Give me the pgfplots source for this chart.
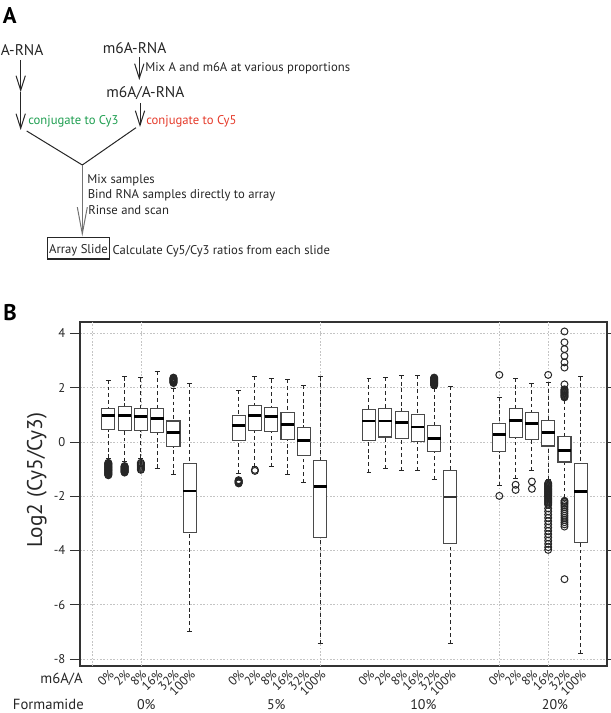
\documentclass[border=0pt]{standalone}
\usepackage{pgfplots}
\pgfplotsset{compat=1.18}
\usepgfplotslibrary{statistics}
\usetikzlibrary{arrows.meta}
\usepackage{fontspec}
\setmainfont{PT Sans}
\definecolor{cygreen}{HTML}{1E9E50}
\definecolor{cyred}{HTML}{E53A2A}
\definecolor{boxgray}{HTML}{4A4A4A}
\definecolor{gridgray}{HTML}{C4C4C4}

\pgfplotsset{
  /pgfplots/boxplot/draw/lower whisker/.code={%
    \draw[/pgfplots/boxplot/every whisker/.try, dash pattern=on 2.8pt off 2.2pt]
      (boxplot box cs:\pgfplotsboxplotvalue{lower whisker},0.5) --
      (boxplot box cs:\pgfplotsboxplotvalue{lower quartile},0.5);
    \draw[/pgfplots/boxplot/every whisker/.try, solid]
      (boxplot whisker cs:\pgfplotsboxplotvalue{lower whisker},0) --
      (boxplot whisker cs:\pgfplotsboxplotvalue{lower whisker},1);
  },
  /pgfplots/boxplot/draw/upper whisker/.code={%
    \draw[/pgfplots/boxplot/every whisker/.try, dash pattern=on 2.8pt off 2.2pt]
      (boxplot box cs:\pgfplotsboxplotvalue{upper whisker},0.5) --
      (boxplot box cs:\pgfplotsboxplotvalue{upper quartile},0.5);
    \draw[/pgfplots/boxplot/every whisker/.try, solid]
      (boxplot whisker cs:\pgfplotsboxplotvalue{upper whisker},0) --
      (boxplot whisker cs:\pgfplotsboxplotvalue{upper whisker},1);
  },
  boxplot/draw direction=y,
  boxplot/box extend=0.8,
  boxplot/whisker extend=0.3,
  boxplot/every box/.style={draw=boxgray, line width=0.8pt, fill=white},
  boxplot/every median/.style={draw=black, line width=2.2pt},
  boxplot/every whisker/.style={draw=black!85, line width=0.75pt},
  bp/.style={boxplot prepared={#1}, draw=boxgray, mark=o, mark size=2.6pt,
    mark options={draw=black!85, line width=0.75pt, solid, fill=none}},
}

\begin{document}
\begin{tikzpicture}[x=0.75pt, y=0.75pt,
  arr/.style={-{Straight Barb[length=11pt,width=7pt]}, line width=0.75pt, black!85},
  lab/.style={anchor=base west, inner sep=0pt, font=\fontsize{11.6}{13}\selectfont, text=black!85},
  desc/.style={anchor=base west, inner sep=0pt, font=\fontsize{9.5}{11}\selectfont, text=black!85}]
\useasboundingbox (0,0) rectangle (610,713);

% ---------- Panel A ----------
\node[anchor=base west, inner sep=0pt, font=\fontsize{17}{20}\selectfont\bfseries] at (2.5,689.7) {A};
\node[lab] at (0.5,657) {A-RNA};
\node[lab] at (102.5,659) {m6A-RNA};
\node[desc] at (145,641.3) {Mix A and m6A at various proportions};
\node[lab] at (106,615.7) {m6A/A-RNA};
\node[desc, text=cygreen] at (28,588.7) {conjugate to Cy3};
\node[desc, text=cyred] at (146,588.7) {conjugate to Cy5};
\draw[arr] (20.7,653) -- (20.7,621);
\draw[arr] (20.7,621) -- (20.7,583);
\draw[arr] (139.3,656) -- (139.3,633);
\draw[arr] (140,610) -- (140,586);
\draw[line width=0.75pt, black!85] (26.7,582) -- (82.3,548) -- (136,585.3);
\draw[-{Straight Barb[length=20pt,width=7.5pt]}, line width=0.75pt, black!55] (82.3,548) -- (82.3,476.5);
\node[desc] at (87,529.7) {Mix samples};
\node[desc] at (87.5,514.7) {Bind RNA samples directly to array};
\node[desc] at (88,498) {Rinse and scan};
\draw[line width=0.9pt, black!85] (47.7,475.7) rectangle (109.3,454);
\node[anchor=base, inner sep=0pt, font=\fontsize{9.5}{11}\selectfont, text=black!85] at (78.5,459) {Array Slide};
\node[desc] at (112.3,458) {Calculate Cy5/Cy3 ratios from each slide};

% ---------- Panel B ----------
\node[anchor=base west, inner sep=0pt, font=\fontsize{17}{20}\selectfont\bfseries] at (3,392.5) {B};
\coordinate (axSW) at (80,47);
\begin{axis}[
  at={(axSW)}, anchor=south west,
  width=395.25pt, height=258pt, scale only axis,
  xmin=-0.737, xmax=31.61, ymin=-8.26, ymax=4.42,
  axis line style={draw=black!80, line width=0.8pt},
  tick align=outside, major tick length=7.5pt,
  ytick={-8,-6,-4,-2,0,2,4},
  yticklabels={-8,-6,-4,-2,0,2,4},
  ytick style={draw=black!80, line width=0.6pt},
  yticklabel style={font=\fontsize{9.5}{11}\selectfont, text=black!85},
  ymajorgrids,
  major grid style={gridgray, dash pattern=on 1.2pt off 1.3pt, line width=0.55pt},
  xtick={1,2,3,4,5,6,9,10,11,12,13,14,17,18,19,20,21,22,25,26,27,28,29,30},
  xticklabels={0\%,2\%,8\%,16\%,32\%,100\%,0\%,2\%,8\%,16\%,32\%,100\%,0\%,2\%,8\%,16\%,32\%,100\%,0\%,2\%,8\%,16\%,32\%,100\%},
  xtick style={draw=none},
  xticklabel shift=-7pt,
  xticklabel style={rotate=45, anchor=north east, font=\fontsize{9.4}{10}\selectfont, text=black!85, inner sep=1pt},
  extra x ticks={0,3,14,25,28},
  extra x tick labels={},
  extra x tick style={grid=major},
  ylabel={Log2 (Cy5/Cy3)},
  ylabel style={at={(axis description cs:-0.0816,0.54)}, anchor=center, font=\fontsize{16}{19}\selectfont, text=black!85},
]
% formamide 0%
\addplot[bp={draw position=1, lower whisker=-0.6, lower quartile=0.455, median=0.96, upper quartile=1.23, upper whisker=2.28}]
  coordinates {(1,-0.77) (1,-0.79) (1,-0.81) (1,-0.83) (1,-0.85) (1,-0.87) (1,-0.89) (1,-0.91) (1,-0.93) (1,-0.95) (1,-0.97) (1,-0.99) (1,-1.01) (1,-1.03) (1,-1.05) (1,-1.07) (1,-1.09) (1,-1.11) (1,-1.13) (1,-1.15) (1,-1.17) (1,-1.19) (1,-1.21) (1,-1.23)};
\addplot[bp={draw position=2, lower whisker=-0.72, lower quartile=0.43, median=0.98, upper quartile=1.32, upper whisker=2.40}]
  coordinates {(2,-0.89) (2,-0.91) (2,-0.93) (2,-0.95) (2,-0.97) (2,-0.99) (2,-1.01) (2,-1.03) (2,-1.05) (2,-1.07) (2,-1.09) (2,-1.11) (2,-1.13)};
\addplot[bp={draw position=3, lower whisker=-0.6, lower quartile=0.43, median=0.95, upper quartile=1.23, upper whisker=2.36}]
  coordinates {(3,-0.77) (3,-0.80) (3,-0.84) (3,-0.88) (3,-0.92) (3,-0.96) (3,-1.00) (3,-1.03)};
\addplot[bp={draw position=4, lower whisker=-0.97, lower quartile=0.33, median=0.87, upper quartile=1.23, upper whisker=2.60}]
  coordinates {};
\addplot[bp={draw position=5, lower whisker=-1.19, lower quartile=-0.18, median=0.33, upper quartile=0.77, upper whisker=1.98}]
  coordinates {(5,2.17) (5,2.19) (5,2.21) (5,2.23) (5,2.25) (5,2.27) (5,2.29) (5,2.31) (5,2.33) (5,2.35) (5,2.37)};
\addplot[bp={draw position=6, lower whisker=-6.99, lower quartile=-3.35, median=-1.81, upper quartile=-0.80, upper whisker=2.15}]
  coordinates {};
% formamide 5%
\addplot[bp={draw position=9, lower whisker=-1.17, lower quartile=0.04, median=0.62, upper quartile=0.98, upper whisker=1.90}]
  coordinates {(9,-1.41) (9,-1.43) (9,-1.45) (9,-1.47) (9,-1.49) (9,-1.51) (9,-1.53)};
\addplot[bp={draw position=10, lower whisker=-0.90, lower quartile=0.41, median=0.98, upper quartile=1.35, upper whisker=2.42}]
  coordinates {(10,-1.03) (10,-1.07)};
\addplot[bp={draw position=11, lower whisker=-0.90, lower quartile=0.37, median=0.92, upper quartile=1.27, upper whisker=2.32}]
  coordinates {};
\addplot[bp={draw position=12, lower whisker=-1.19, lower quartile=0.09, median=0.65, upper quartile=1.07, upper whisker=2.31}]
  coordinates {};
\addplot[bp={draw position=13, lower whisker=-1.49, lower quartile=-0.50, median=0.06, upper quartile=0.53, upper whisker=2.08}]
  coordinates {};
\addplot[bp={draw position=14, lower whisker=-7.44, lower quartile=-3.53, median=-1.66, upper quartile=-0.68, upper whisker=2.40}]
  coordinates {};
% formamide 10%
\addplot[bp={draw position=17, lower whisker=-1.13, lower quartile=0.06, median=0.77, upper quartile=1.19, upper whisker=2.34}]
  coordinates {};
\addplot[bp={draw position=18, lower whisker=-0.98, lower quartile=0.18, median=0.77, upper quartile=1.22, upper whisker=2.37}]
  coordinates {};
\addplot[bp={draw position=19, lower whisker=-1.05, lower quartile=0.12, median=0.70, upper quartile=1.13, upper whisker=2.46}]
  coordinates {};
\addplot[bp={draw position=20, lower whisker=-1.07, lower quartile=0.00, median=0.55, upper quartile=1.02, upper whisker=2.44}]
  coordinates {};
\addplot[bp={draw position=21, lower whisker=-1.39, lower quartile=-0.37, median=0.12, upper quartile=0.60, upper whisker=1.97}]
  coordinates {(21,2.09) (21,2.11) (21,2.13) (21,2.15) (21,2.17) (21,2.19) (21,2.21) (21,2.23) (21,2.25) (21,2.27) (21,2.29) (21,2.31) (21,2.33) (21,2.35) (21,2.37)};
\addplot[bp={draw position=22, lower whisker=-7.44, lower quartile=-3.73, median=-2.03, upper quartile=-1.07, upper whisker=2.05},
  boxplot/every median/.style={draw=black!80, line width=0.9pt}]
  coordinates {};
% formamide 20%
\addplot[bp={draw position=25, lower whisker=-1.60, lower quartile=-0.36, median=0.27, upper quartile=0.69, upper whisker=1.65}]
  coordinates {(25,2.47) (25,-1.99)};
\addplot[bp={draw position=26, lower whisker=-1.36, lower quartile=0.16, median=0.78, upper quartile=1.22, upper whisker=2.35}]
  coordinates {(26,-1.58) (26,-1.77)};
\addplot[bp={draw position=27, lower whisker=-1.06, lower quartile=0.09, median=0.68, upper quartile=1.07, upper whisker=2.15}]
  coordinates {(27,-1.46) (27,-1.73)};
\addplot[bp={draw position=28, lower whisker=-1.40, lower quartile=-0.15, median=0.36, upper quartile=0.80, upper whisker=2.19}]
  coordinates {(28,2.47) (28,-1.52) (28,-1.55) (28,-1.58) (28,-1.61) (28,-1.64) (28,-1.67) (28,-1.70) (28,-1.73) (28,-1.76) (28,-1.79) (28,-1.82) (28,-1.85) (28,-1.88) (28,-1.91) (28,-1.94) (28,-1.97) (28,-2.00) (28,-2.04) (28,-2.08) (28,-2.12) (28,-2.16) (28,-2.20) (28,-2.24) (28,-2.28) (28,-2.32) (28,-2.45) (28,-2.56) (28,-2.68) (28,-2.80) (28,-2.92) (28,-3.04) (28,-3.16) (28,-3.28) (28,-3.40) (28,-3.52) (28,-3.64) (28,-3.76) (28,-3.88) (28,-3.98)};
\addplot[bp={draw position=29, lower whisker=-2.07, lower quartile=-0.74, median=-0.30, upper quartile=0.21, upper whisker=1.55}]
  coordinates {(29,4.07) (29,3.67) (29,3.42) (29,3.17) (29,2.93) (29,2.74) (29,2.12) (29,1.94) (29,1.91) (29,1.88) (29,1.85) (29,1.82) (29,1.79) (29,1.76) (29,1.73) (29,1.70) (29,1.67) (29,1.64) (29,-2.17) (29,-2.22) (29,-2.27) (29,-2.33) (29,-2.40) (29,-2.48) (29,-2.56) (29,-2.64) (29,-2.72) (29,-2.80) (29,-2.88) (29,-2.96) (29,-3.04) (29,-3.12) (29,-5.06)};
\addplot[bp={draw position=30, lower whisker=-7.79, lower quartile=-3.70, median=-1.83, upper quartile=-0.80, upper whisker=2.40}]
  coordinates {};
\end{axis}

\node[anchor=base east, inner sep=0pt, font=\fontsize{11}{13}\selectfont, text=black!85] at (83,29.7) {m6A/A};
\node[anchor=base west, inner sep=0pt, font=\fontsize{11}{13}\selectfont, text=black!85] at (12.7,3.7) {Formamide};
\node[anchor=base, inner sep=0pt, font=\fontsize{10.5}{12}\selectfont, text=black!85] at (146.3,3.7) {0\%};
\node[anchor=base, inner sep=0pt, font=\fontsize{10.5}{12}\selectfont, text=black!85] at (276.3,3.7) {5\%};
\node[anchor=base, inner sep=0pt, font=\fontsize{10.5}{12}\selectfont, text=black!85] at (423.3,3.7) {10\%};
\node[anchor=base, inner sep=0pt, font=\fontsize{10.5}{12}\selectfont, text=black!85] at (555,3.7) {20\%};
\end{tikzpicture}
\end{document}
